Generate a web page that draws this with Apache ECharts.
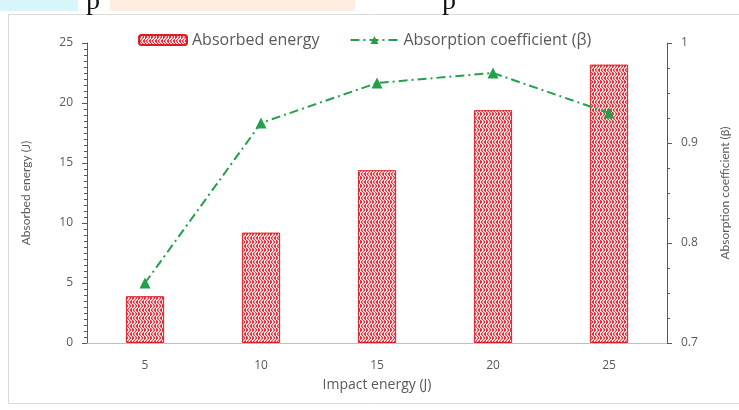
<!DOCTYPE html>
<html><head><meta charset="utf-8">
<script src="https://cdn.jsdelivr.net/npm/echarts@6/dist/echarts.min.js"></script>
<style>html,body{margin:0;padding:0;background:#fff}#c{width:739px;height:410px}</style>
</head><body><div id="c"></div>
<script>
const categories = ['5','10','15','20','25'];
const absorbedEnergy = [3.9, 9.2, 14.4, 19.4, 23.2];
const absorptionCoef = [0.76, 0.92, 0.96, 0.97, 0.93];
const leftTicks = [0, 5, 10, 15, 20, 25];
const rightTicks = [0.7, 0.8, 0.9, 1];

function makePattern(){
  const c = document.createElement('canvas');
  c.width = 6; c.height = 8;
  const g = c.getContext('2d');
  g.fillStyle = '#E2323C'; g.fillRect(0,0,6,8);
  g.strokeStyle = '#ffffff'; g.lineWidth = 1.3;
  g.beginPath();
  g.moveTo(1.5,0); g.quadraticCurveTo(4.5,2,1.5,4); g.quadraticCurveTo(-1.5,6,1.5,8);
  g.stroke();
  g.beginPath();
  g.moveTo(4.5,0); g.quadraticCurveTo(7.5,2,4.5,4); g.quadraticCurveTo(1.5,6,4.5,8);
  g.stroke();
  return c;
}
const pat = {image: makePattern(), repeat: 'repeat'};
const gray = '#595959';
const font = 'Lato, "Open Sans", sans-serif';
const wide = '"Open Sans", sans-serif';

const chart = echarts.init(document.getElementById('c'), null, {renderer:'canvas'});
chart.setOption({
  animation: false,
  textStyle: {fontFamily: font, color: gray},
  graphic: [
    {type:'rect', shape:{x:0,y:0,width:78,height:11}, style:{fill:'#D6F6FA'}, z:-1},
    {type:'rect', shape:{x:110,y:0,width:245,height:11}, style:{fill:'#FDEEDF'}, z:-1},
    {type:'text', left:86, top:-12, style:{text:'p', font:'28px "Liberation Serif"', fill:'#111'}},
    {type:'text', left:442, top:-12, style:{text:'p', font:'28px "Liberation Serif"', fill:'#111'}},
    {type:'rect', shape:{x:8.5,y:14.5,width:740,height:389}, style:{fill:'none', stroke:'#D9D9D9', lineWidth:1}, z:-1}
  ],
  legend: {
    top: 27, left: 133,
    itemGap: 30,
    itemWidth: 48, itemHeight: 10,
    textStyle: {color: gray, fontSize: 16, fontFamily: wide},
    data: ['Absorbed energy', 'Absorption coefficient (β)']
  },
  grid: {left: 87, right: 67, top: 43, bottom: 67},
  xAxis: {
    type: 'category', data: categories,
    name: 'Impact energy (J)', nameLocation: 'middle', nameGap: 35,
    nameTextStyle: {color: gray, fontSize: 14, fontFamily: wide},
    axisLine: {lineStyle: {color: '#BFBFBF', width: 1}},
    axisTick: {show: false},
    axisLabel: {color: gray, fontSize: 12, margin: 17, fontFamily: wide}
  },
  yAxis: [
    {
      type: 'value', min: 0, max: 25, interval: 5,
      name: 'Absorbed energy (J)', nameLocation: 'middle', nameGap: 55,
      nameTextStyle: {color: gray, fontSize: 12},
      axisLine: {show: true, lineStyle: {color: '#595959'}},
      axisTick: {show: true, length: 5, lineStyle: {color: '#595959'}},
      minorTick: {show: true, splitNumber: 10, length: 3, lineStyle: {color: '#595959'}},
      splitLine: {show: false},
      axisLabel: {color: gray, fontSize: 12, margin: 14, fontFamily: wide}
    },
    {
      type: 'value', min: 0.7, max: 1, interval: 0.1,
      name: 'Absorption coefficient (β)', nameLocation: 'middle', nameGap: 52,
      nameTextStyle: {color: gray, fontSize: 12},
      axisLine: {show: true, lineStyle: {color: '#595959'}},
      axisTick: {show: true, length: 5, lineStyle: {color: '#595959'}},
      minorTick: {show: true, splitNumber: 4, length: 3, lineStyle: {color: '#595959'}},
      splitLine: {show: false},
      axisLabel: {color: gray, fontSize: 12, margin: 14, fontFamily: wide, formatter: v => String(Math.round(v*10)/10)}
    }
  ],
  series: [
    {
      name: 'Absorbed energy', type: 'bar', data: absorbedEnergy,
      barWidth: '33%',
      itemStyle: {color: pat, borderColor: '#D81E28', borderWidth: 1}
    },
    {
      name: 'Absorption coefficient (β)', type: 'line', yAxisIndex: 1,
      data: absorptionCoef,
      symbol: 'triangle', symbolSize: 11,
      lineStyle: {color: '#22A04B', width: 2, type: [9, 4, 2, 4]},
      itemStyle: {color: '#22A04B'}
    }
  ]
});
</script></body></html>
